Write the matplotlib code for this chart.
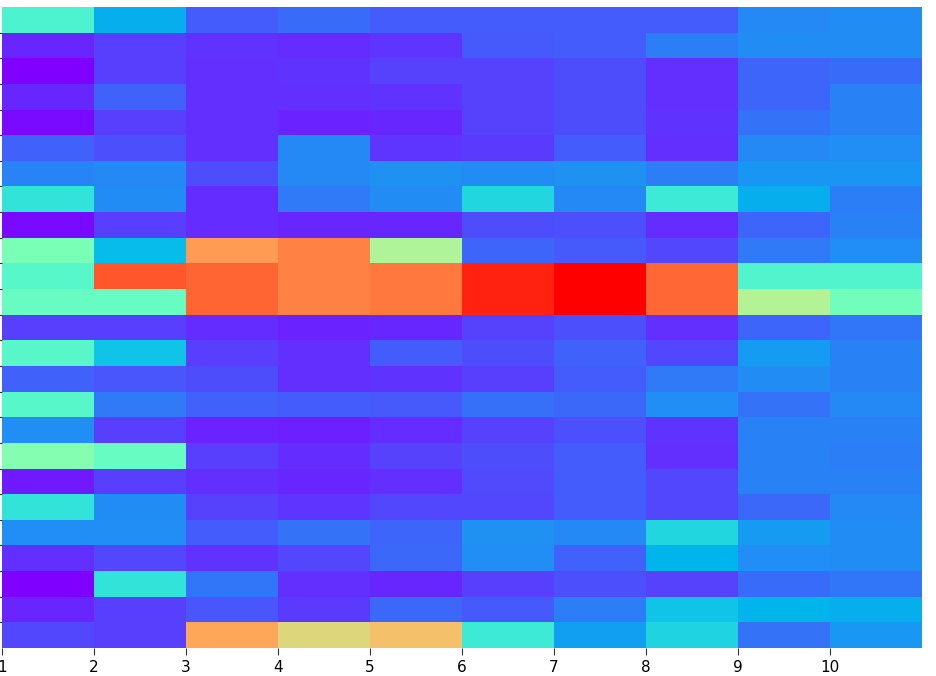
import numpy as np
import matplotlib
matplotlib.use("Agg")
import matplotlib.pyplot as plt

# columns along x, labelled at left edges
cols = [1, 2, 3, 4, 5, 6, 7, 8, 9, 10]

# normalised values, one list per row (top row first)
r01 = [0.40, 0.24, 0.12, 0.14, 0.12, 0.12, 0.12, 0.12, 0.18, 0.185]
r02 = [0.05, 0.08, 0.065, 0.055, 0.07, 0.115, 0.12, 0.165, 0.185, 0.185]
r03 = [0.00, 0.08, 0.06, 0.065, 0.085, 0.085, 0.10, 0.06, 0.13, 0.14]
r04 = [0.05, 0.125, 0.06, 0.06, 0.065, 0.085, 0.10, 0.06, 0.13, 0.17]
r05 = [0.015, 0.08, 0.06, 0.045, 0.05, 0.085, 0.10, 0.065, 0.15, 0.17]
r06 = [0.125, 0.105, 0.06, 0.18, 0.07, 0.075, 0.12, 0.06, 0.18, 0.19]
r07 = [0.175, 0.18, 0.10, 0.18, 0.195, 0.185, 0.195, 0.165, 0.20, 0.20]
r08 = [0.35, 0.185, 0.055, 0.16, 0.185, 0.32, 0.18, 0.37, 0.24, 0.165]
r09 = [0.015, 0.08, 0.055, 0.05, 0.05, 0.10, 0.105, 0.055, 0.13, 0.17]
r10 = [0.49, 0.265, 0.79, 0.83, 0.59, 0.13, 0.115, 0.09, 0.16, 0.19]
r11 = [0.42, 0.89, 0.87, 0.83, 0.84, 0.955, 1.00, 0.865, 0.41, 0.41]
r12 = [0.45, 0.45, 0.87, 0.83, 0.84, 0.955, 1.00, 0.865, 0.60, 0.47]
r13 = [0.08, 0.08, 0.055, 0.045, 0.05, 0.085, 0.105, 0.06, 0.13, 0.155]
r14 = [0.42, 0.28, 0.08, 0.06, 0.12, 0.10, 0.125, 0.09, 0.21, 0.17]
r15 = [0.125, 0.11, 0.10, 0.06, 0.065, 0.08, 0.12, 0.16, 0.185, 0.17]
r16 = [0.42, 0.16, 0.125, 0.12, 0.115, 0.145, 0.135, 0.19, 0.15, 0.18]
r17 = [0.19, 0.08, 0.045, 0.04, 0.055, 0.085, 0.105, 0.065, 0.17, 0.17]
r18 = [0.51, 0.45, 0.08, 0.055, 0.085, 0.10, 0.12, 0.06, 0.17, 0.165]
r19 = [0.035, 0.08, 0.06, 0.05, 0.06, 0.095, 0.12, 0.09, 0.17, 0.17]
r20 = [0.35, 0.185, 0.085, 0.07, 0.09, 0.09, 0.12, 0.09, 0.135, 0.18]
r21 = [0.19, 0.19, 0.12, 0.15, 0.13, 0.195, 0.18, 0.32, 0.21, 0.185]
r22 = [0.06, 0.09, 0.065, 0.09, 0.135, 0.19, 0.125, 0.25, 0.19, 0.185]
r23 = [0.00, 0.35, 0.155, 0.06, 0.05, 0.08, 0.105, 0.085, 0.14, 0.155]
r24 = [0.05, 0.08, 0.11, 0.075, 0.135, 0.115, 0.165, 0.28, 0.25, 0.24]
r25 = [0.09, 0.08, 0.77, 0.68, 0.73, 0.37, 0.215, 0.31, 0.15, 0.205]

rows = [r01, r02, r03, r04, r05, r06, r07, r08, r09, r10, r11, r12, r13,
        r14, r15, r16, r17, r18, r19, r20, r21, r22, r23, r24, r25]
grid = np.array(rows)

fig = plt.figure(figsize=(9.36, 6.76), dpi=100)
ax = fig.add_axes([2/936, 1 - 648/676, 920/936, 641/676])

xedges = np.arange(cols[0], cols[-1] + 2)
yedges = np.arange(len(rows) + 1)
ax.pcolormesh(xedges, yedges, grid, cmap="rainbow", vmin=0, vmax=1)
ax.set_xlim(xedges[0], xedges[-1])
ax.set_ylim(yedges[-1], yedges[0])  # top row first

ax.set_xticks(cols)
ax.set_xticklabels([str(c) for c in cols], fontsize=11)
ax.set_yticks(yedges[1:-1])
ax.set_yticklabels([])
ax.tick_params(length=5, color="#333333")

for s in ax.spines.values():
    s.set_visible(False)

plt.savefig("out.png", dpi=100)
